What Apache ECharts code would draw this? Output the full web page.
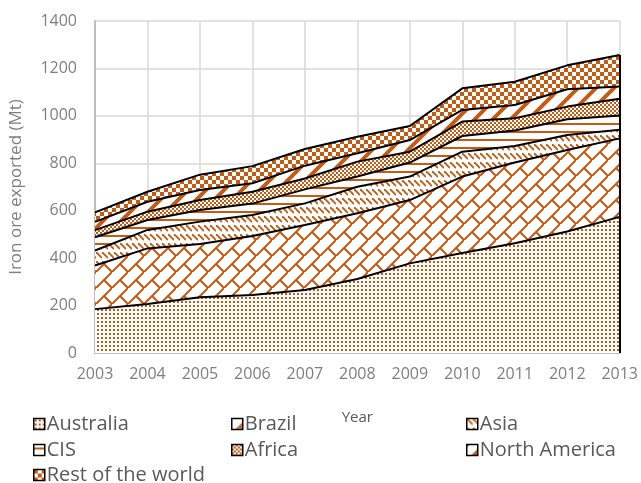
<!DOCTYPE html>
<html>
<head>
<meta charset="utf-8">
<script src="https://cdn.jsdelivr.net/npm/echarts@6/dist/echarts.min.js"></script>
<style>
  html, body { margin: 0; padding: 0; background: #ffffff; }
  #chart { width: 641px; height: 483px; }
</style>
</head>
<body>
<div id="chart"></div>
<script>
// Iron ore exports by origin, million tonnes
const years = ['2003', '2004', '2005', '2006', '2007', '2008', '2009', '2010', '2011', '2012', '2013'];
const australia    = [185, 207, 235, 245, 266, 312, 378, 422, 463, 512, 574];
const brazil       = [184, 234, 225, 248, 274, 277, 267, 322, 340, 344, 331];
const asia         = [63, 78, 94, 89, 91, 112, 99, 105, 70, 63, 36];
const cis          = [56, 42, 49, 48, 59, 43, 59, 66, 65, 67, 61];
const africa       = [30, 35, 42, 50, 46, 63, 46, 61, 52, 53, 70];
const northAmerica = [35, 42, 42, 36, 54, 35, 49, 49, 56, 73, 52];
const restOfWorld  = [40, 42, 65, 72, 70, 70, 59, 91, 98, 101, 133];

const yTicks = { min: 0, max: 1400, interval: 200 };

const INK = '#c55a11';
const FONT = '"Open Sans", "Noto Sans", sans-serif';

// Build a repeating canvas fill: white ground, orange motif
function pattern(w, h, draw) {
  const c = document.createElement('canvas');
  c.width = w; c.height = h;
  const ctx = c.getContext('2d');
  ctx.fillStyle = '#ffffff';
  ctx.fillRect(0, 0, w, h);
  ctx.fillStyle = INK;
  ctx.strokeStyle = INK;
  draw(ctx, w, h);
  return { image: c, repeat: 'repeat' };
}

const fills = {
  dots: pattern(4, 4, (g) => { g.fillRect(1, 1, 2, 2); }),
  brick: pattern(16, 16, (g) => {
    g.lineWidth = 2;
    g.beginPath();
    g.moveTo(-2, 18); g.lineTo(18, -2);
    g.moveTo(8, 8); g.lineTo(18, 18);
    g.moveTo(-2, -2); g.lineTo(0, 0);
    g.stroke();
  }),
  dashDown: pattern(6, 9, (g) => {
    g.lineWidth = 1.8;
    g.beginPath();
    g.moveTo(0, 0); g.lineTo(6, 6);
    g.stroke();
  }),
  horiz: pattern(8, 8, (g) => { g.fillRect(0, 3, 8, 2); }),
  smallCheck: pattern(4, 4, (g) => { g.fillRect(0, 0, 2, 2); g.fillRect(2, 2, 2, 2); }),
  wideUp: pattern(18, 18, (g) => {
    g.lineWidth = 4;
    g.beginPath();
    g.moveTo(-4, 22); g.lineTo(22, -4);
    g.moveTo(-4, 4); g.lineTo(4, -4);
    g.moveTo(14, 22); g.lineTo(22, 14);
    g.stroke();
  }),
  bigCheck: pattern(8, 8, (g) => { g.fillRect(0, 0, 4, 4); g.fillRect(4, 4, 4, 4); })
};

const layers = [
  { name: 'Australia', data: australia, fill: fills.dots },
  { name: 'Brazil', data: brazil, fill: fills.brick },
  { name: 'Asia', data: asia, fill: fills.dashDown },
  { name: 'CIS', data: cis, fill: fills.horiz },
  { name: 'Africa', data: africa, fill: fills.smallCheck },
  { name: 'North America', data: northAmerica, fill: fills.wideUp },
  { name: 'Rest of the world', data: restOfWorld, fill: fills.bigCheck }
];

const lastIdx = years.length - 1;
const grandTotalLast = layers.reduce((s, l) => s + l.data[lastIdx], 0);

// Filled bands (no outline)
const areaSeries = layers.map((l) => ({
  name: l.name,
  type: 'line',
  stack: 'areas',
  data: l.data,
  symbol: 'none',
  lineStyle: { width: 0 },
  itemStyle: { color: l.fill },
  areaStyle: { color: l.fill, opacity: 1 },
  z: 2,
  emphasis: { disabled: true }
}));

// Black outlines drawn above every band
const outlineSeries = layers.map((l, i) => {
  const s = {
    name: l.name,
    type: 'line',
    stack: 'outlines',
    data: l.data,
    symbol: 'none',
    lineStyle: { color: '#000000', width: 2 },
    z: 4,
    emphasis: { disabled: true }
  };
  if (i === layers.length - 1) {
    s.markLine = {
      silent: true,
      symbol: 'none',
      label: { show: false },
      lineStyle: { color: '#000000', width: 2, type: 'solid' },
      data: [[{ coord: [years[lastIdx], 0] }, { coord: [years[lastIdx], grandTotalLast] }]]
    };
  }
  return s;
});

// Three-column legend, one component per entry
const legendCols = [33, 231, 466];
const legendRows = [414, 440, 465];
const legends = layers.map((l, i) => ({
  left: legendCols[i % 3],
  top: legendRows[Math.floor(i / 3)],
  orient: 'horizontal',
  itemWidth: 11,
  itemHeight: 11,
  itemGap: 4,
  padding: 0,
  selectedMode: false,
  textStyle: { color: '#595959', fontSize: 20, lineHeight: 20, fontFamily: FONT, padding: [0, 0, 0, -3] },
  data: [{
    name: l.name,
    icon: 'rect',
    itemStyle: { color: l.fill, borderColor: '#000000', borderWidth: 1.5 }
  }]
}));

const chart = echarts.init(document.getElementById('chart'), null, { renderer: 'canvas' });
chart.setOption({
  animation: false,
  backgroundColor: '#ffffff',
  grid: { left: 93, right: 16, top: 21, bottom: 130, containLabel: false },
  legend: legends,
  xAxis: {
    type: 'category',
    data: years,
    boundaryGap: false,
    name: 'Year',
    nameLocation: 'middle',
    nameGap: 57,
    nameTextStyle: { color: '#595959', fontSize: 15, fontFamily: FONT },
    axisLine: { show: true, lineStyle: { color: '#bfbfbf', width: 2 } },
    axisTick: { show: false },
    axisLabel: { color: '#7f7f7f', fontSize: 16, fontFamily: FONT, margin: 13 },
    splitLine: { show: true, lineStyle: { color: '#d9d9d9', width: 1.5 } }
  },
  yAxis: {
    type: 'value',
    min: yTicks.min,
    max: yTicks.max,
    interval: yTicks.interval,
    name: 'Iron ore exported (Mt)',
    nameLocation: 'middle',
    nameGap: 70,
    nameTextStyle: { color: '#7f7f7f', fontSize: 17, fontFamily: FONT },
    axisLine: { show: true, lineStyle: { color: '#bfbfbf', width: 2 } },
    axisTick: { show: false },
    axisLabel: { color: '#7f7f7f', fontSize: 16, fontFamily: FONT, margin: 18, formatter: (v) => String(v) },
    splitLine: { show: true, lineStyle: { color: '#d9d9d9', width: 1.5 } }
  },
  series: areaSeries.concat(outlineSeries)
});
</script>
</body>
</html>
